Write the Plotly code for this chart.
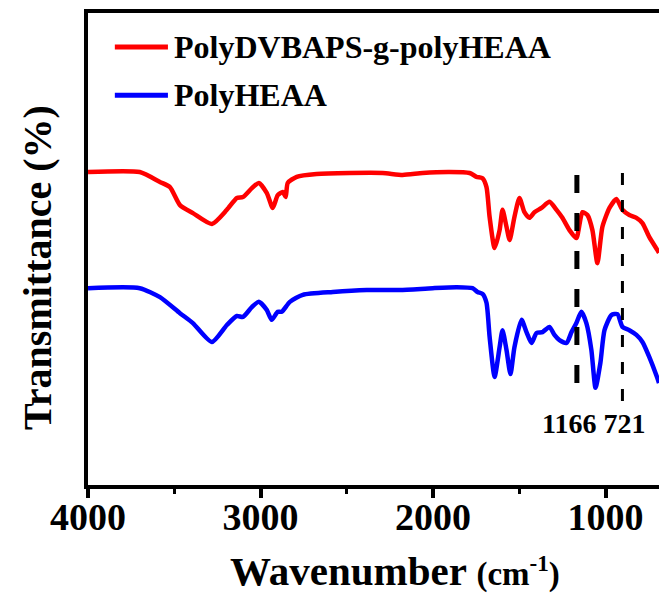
import plotly.graph_objects as go

# ---- data ----
series_names = ["PolyDVBAPS-g-polyHEAA", "PolyHEAA"]

wn_red = [4000, 3700, 3583, 3525, 3467, 3392, 3282, 3195, 3137, 3102, 3050, 3010,
          2964, 2929, 2900, 2871, 2854, 2842, 2790, 2675, 2483, 2292, 2176, 2060,
          1904, 1788, 1748, 1713, 1690, 1672, 1643, 1614, 1597, 1574, 1556, 1528,
          1499, 1470, 1441, 1412, 1371, 1325, 1284, 1250, 1209, 1169, 1134, 1105,
          1076, 1047, 1018, 977, 937, 902, 862, 821, 786, 746, 700, 690]
t_red = [66.3, 66.3, 64.2, 63.1, 59.3, 57.6, 55.3, 58.3, 60.8, 61.0, 62.9, 64.0,
         61.9, 58.7, 61.4, 62.1, 61.0, 64.0, 65.3, 65.9, 66.1, 66.1, 65.7, 66.1,
         66.3, 66.1, 65.3, 65.0, 63.1, 56.8, 50.2, 54.0, 58.3, 54.7, 51.9, 56.8,
         60.8, 57.8, 56.6, 57.8, 58.7, 60.0, 58.3, 56.6, 54.0, 52.3, 57.8, 57.2,
         54.0, 47.0, 54.7, 58.7, 60.6, 58.3, 57.2, 56.6, 55.5, 52.5, 49.8, 49.2]

wn_blue = [4000, 3700, 3583, 3467, 3392, 3282, 3195, 3137, 3102, 3050, 3010, 2964,
           2935, 2900, 2877, 2830, 2755, 2581, 2384, 2193, 2002, 1863, 1771, 1742,
           1713, 1690, 1672, 1643, 1614, 1597, 1574, 1551, 1528, 1487, 1458, 1429,
           1400, 1365, 1325, 1296, 1267, 1226, 1197, 1169, 1140, 1111, 1082, 1058,
           1030, 1006, 966, 931, 902, 862, 821, 786, 746, 700, 690]
t_blue = [41.7, 41.7, 39.8, 36.4, 34.3, 30.3, 33.9, 35.8, 35.6, 37.7, 38.8, 37.1,
          35.0, 36.7, 36.7, 38.8, 40.3, 40.9, 41.3, 41.3, 41.7, 41.9, 41.7, 40.9,
          40.5, 38.6, 31.4, 22.9, 29.2, 32.8, 28.6, 23.5, 29.2, 35.0, 32.4, 30.1,
          32.2, 32.4, 33.5, 31.8, 30.7, 30.1, 32.4, 34.3, 36.7, 34.3, 28.6, 20.6,
          25.8, 32.8, 36.0, 36.2, 33.5, 32.8, 31.8, 30.3, 27.1, 22.7, 21.6]

marker_x = [1166, 902]
marker_y_top = [65.7, 66.1]
marker_y_bottom = [19.7, 17.4]
marker_labels = ["1166", "721"]

x_ticks = [4000, 3000, 2000, 1000]

FONT = "Times New Roman, Liberation Serif, serif"
colors = ["#ff0000", "#0000ff"]

fig = go.Figure()
fig.add_trace(go.Scatter(x=wn_red, y=t_red, mode="lines", name=series_names[0],
                         line=dict(color=colors[0], width=4.5, shape="spline", smoothing=0.6),
                         showlegend=False))
fig.add_trace(go.Scatter(x=wn_blue, y=t_blue, mode="lines", name=series_names[1],
                         line=dict(color=colors[1], width=4.5, shape="spline", smoothing=0.6),
                         showlegend=False))

dash_styles = [dict(width=5, dash="18px,20px"), dict(width=3, dash="12px,15px")]
for i in range(len(marker_x)):
    fig.add_trace(go.Scatter(x=[marker_x[i], marker_x[i]],
                             y=[marker_y_top[i], marker_y_bottom[i]],
                             mode="lines", showlegend=False, hoverinfo="skip",
                             line=dict(color="black", **dash_styles[i])))

# custom legend (line samples + labels)
leg_y = [0.928, 0.826]
for i, nm in enumerate(series_names):
    fig.add_shape(type="line", xref="paper", yref="paper", x0=0.047, x1=0.140,
                  y0=leg_y[i], y1=leg_y[i], line=dict(color=colors[i], width=5))
    fig.add_annotation(xref="paper", yref="paper", x=0.147, y=leg_y[i],
                       xanchor="left", yanchor="middle", showarrow=False, text=nm,
                       font=dict(family=FONT, size=32, color="black", weight="bold"))

fig.add_annotation(xref="paper", yref="y", x=(593 - 88) / 571, y=13.1,
                   xanchor="center", yanchor="middle", showarrow=False,
                   text=" ".join(marker_labels),
                   font=dict(family=FONT, size=28, color="black", weight="bold"))

# axis titles
fig.add_annotation(xref="paper", yref="paper", x=(395 - 88) / 571, y=-0.183,
                   xanchor="center", yanchor="middle", showarrow=False,
                   text="Wavenumber <span style='font-size:33px'>(cm<sup>-1</sup>)</span>",
                   font=dict(family=FONT, size=41, color="black", weight="bold"))
fig.add_annotation(xref="paper", yref="paper", x=(38 - 88) / 571, y=0.46,
                   xanchor="center", yanchor="middle", showarrow=False, textangle=-90,
                   text="Transmittance (%)",
                   font=dict(family=FONT, size=40, color="black", weight="bold"))

fig.update_layout(
    width=659, height=594,
    margin=dict(l=88, r=0, t=13, b=109),
    paper_bgcolor="white", plot_bgcolor="white",
    showlegend=False,
    xaxis=dict(range=[4000, 690], showgrid=False, zeroline=False, automargin=False,
               showline=True, linecolor="black", linewidth=4, mirror=True,
               ticks="outside", ticklen=9, tickwidth=4, tickcolor="black",
               ticklabelstandoff=-14,
               tickvals=x_ticks, ticktext=[str(v) for v in x_ticks],
               tickfont=dict(family=FONT, size=38, color="black", weight="bold"),
               minor=dict(ticks="outside", ticklen=5, tickwidth=3, tickcolor="black",
                          dtick=500, tick0=0, showgrid=False)),
    yaxis=dict(range=[0, 100], showgrid=False, zeroline=False, showticklabels=False,
               automargin=False,
               showline=True, linecolor="black", linewidth=4, mirror=False, ticks=""),
)

fig.write_html("out.html", config={"displayModeBar": False},
               post_script="document.body.style.margin='0';document.body.style.overflow='hidden';")
